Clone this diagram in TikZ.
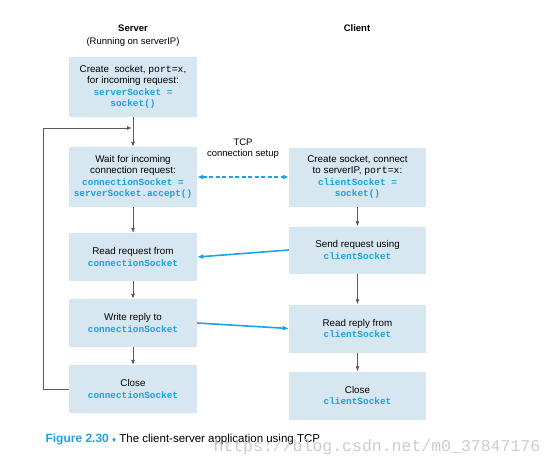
\documentclass[tikz,border=0pt]{standalone}
\usepackage{fontspec}
\setmainfont{Liberation Sans}
\setmonofont{Liberation Mono}
\usetikzlibrary{positioning,arrows.meta}
\definecolor{boxblue}{HTML}{D7E7F1}
\definecolor{codeblue}{HTML}{1AA3E3}
\definecolor{linegray}{HTML}{5A5A5A}
\newcommand{\code}[1]{{\fontsize{9.4}{11.5}\selectfont\ttfamily\bfseries\color{codeblue}#1}}

\begin{document}
\begin{tikzpicture}[x=1pt,y=-1pt,node distance=80pt,on grid,
  box/.style={fill=boxblue,align=center,minimum height=48pt,
    font=\fontsize{9.8}{11.5}\selectfont},
  sbox/.style={box,minimum width=128pt},
  cbox/.style={box,minimum width=137pt},
  flow/.style={draw=linegray,line width=0.8pt,-{Latex[length=5pt,width=4pt]}},
  msg/.style={draw=codeblue,line width=1.6pt,-{Latex[length=6pt,width=5pt]}},
  head/.style={font=\fontsize{9.5}{11}\selectfont}]
  \useasboundingbox (0,0) rectangle (554,466);

  % server side
  \node[sbox,minimum height=60pt] (s1) at (133,87)
    {Create\ \ socket, \texttt{port=x},\\ for incoming request:\\
     \code{serverSocket =}\\ \code{socket()}};
  \node[sbox,minimum height=60pt] (s2) [below=90pt of s1]
    {Wait for incoming\\ connection request:\\
     \code{connectionSocket =}\\ \code{serverSocket.accept()}};
  \node[sbox] (s3) [below=80pt of s2] {Read request from\\ \code{connectionSocket}};
  \node[sbox] (s4) [below=66pt of s3] {Write reply to\\ \code{connectionSocket}};
  \node[sbox] (s5) [below=66pt of s4] {Close\\ \code{connectionSocket}};
  \node[head,font=\fontsize{9.5}{11}\selectfont\bfseries] (server) at (133,28) {Server};
  \node[head] (running) [below=14pt of server] {(Running on serverIP)};

  % client side
  \node[cbox,minimum height=59pt] (c1) [right=224.5pt of s2]
    {Create socket, connect\\ to serverIP, \texttt{port=x}:\\
     \code{clientSocket =}\\ \code{socket()}};
  \node[cbox,minimum height=47pt] (c2) [below=73pt of c1] {Send request using\\ \code{clientSocket}};
  \node[cbox] (c3) [below=78.5pt of c2] {Read reply from\\ \code{clientSocket}};
  \node[cbox] (c4) [below=67pt of c3] {Close\\ \code{clientSocket}};
  \node[head,font=\fontsize{9.5}{11}\selectfont\bfseries] (client) at (357,28) {Client};

  \coordinate (join) at (133,128);

  % flow inside each side
  \draw[flow] (s1) -- (s2);
  \draw[flow] (s2) -- (s3);
  \draw[flow] (s3) -- (s4);
  \draw[flow] (s4) -- (s5);
  \draw[flow] (s5.west) -- ++(-25,0) |- ([xshift=-1pt]join);
  \draw[flow] (c1) -- (c2);
  \draw[flow] (c2) -- (c3);
  \draw[flow] (c3) -- (c4);

  % between the two sides
  \draw[msg,line width=1.3pt,dash pattern=on 4pt off 2.5pt,
    {Latex[length=6pt,width=5pt]}-{Latex[length=6pt,width=5pt]}] (s2.east) -- (c1.west)
    node[midway,above=15pt,head,align=center] (tcp) {TCP\\ connection setup};
  \draw[msg] (c2.west) -- (s3.east);
  \draw[msg] (s4.east) -- (c3.west);

  % caption
  \node[anchor=west,font=\fontsize{11.5}{13}\selectfont] (caption) at (42,439)
    {\textcolor{codeblue}{\bfseries\fontsize{12}{13}\selectfont Figure 2.30}\ 
     \textcolor{codeblue}{\fontsize{8}{8}\selectfont ♦} The client-server application using TCP};
  \node[anchor=west,text=gray!40,font=\fontsize{16.5}{17}\ttfamily] (mark) at (210,447)
    {https://blog.csdn.net/m0\_37847176};
\end{tikzpicture}
\end{document}
